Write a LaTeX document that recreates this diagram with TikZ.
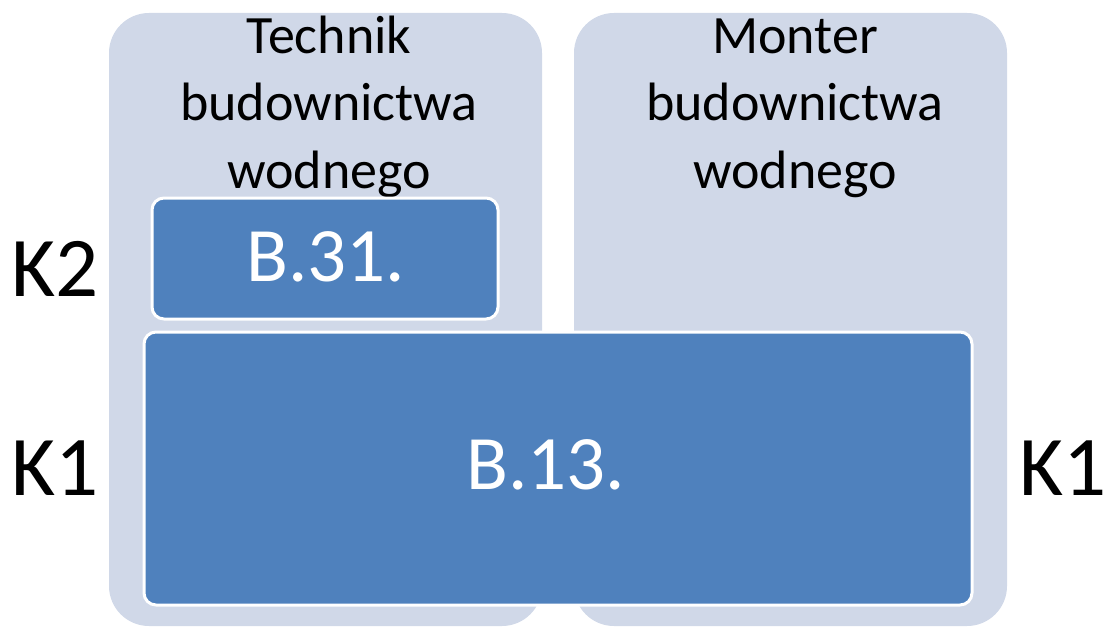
\documentclass[tikz,border=0pt]{standalone}
\usepackage{fontspec}
\setmainfont{Carlito}
\definecolor{panelbg}{HTML}{D0D8E8}
\definecolor{boxbg}{HTML}{4F81BD}
\tikzset{
  panel/.style={fill=panelbg, draw=none, rounded corners=40pt},
  exambox/.style={fill=boxbg, draw=white, line width=3pt, rounded corners=12pt},
  titletext/.style={anchor=base, inner sep=0pt, font=\fontsize{54}{68}\selectfont, text=black},
  codetext/.style={anchor=base, inner sep=0pt, font=\fontsize{77}{90}\selectfont, text=white},
  leveltext/.style={anchor=base, inner sep=0pt, font=\fontsize{85}{100}\selectfont, text=black},
}
\begin{document}
\begin{tikzpicture}[x=1pt, y=-1pt]
\useasboundingbox (0,0) rectangle (1110,626);
% panels
\path[panel] (109,13) rectangle (542,626);
\path[panel] (574,13) rectangle (1007,626);
% titles
\node[titletext] (t1a) at (329,53) {Technik};
\node[titletext] (t1b) at (329,120) {budownictwa};
\node[titletext] (t1c) at (329,188) {wodnego};
\node[titletext] (t2a) at (795,53) {Monter};
\node[titletext] (t2b) at (795,120) {budownictwa};
\node[titletext] (t2c) at (795,188) {wodnego};
% exam boxes
\path[exambox] (152,198) rectangle (498,319);
\node[codetext] (b31) at (326,281) {B.31.};
\path[exambox] (144,332) rectangle (972,605);
\node[codetext] (b13) at (546,489) {B.13.};
% levels
\node[leveltext] (k2) at (55,296) {K2};
\node[leveltext] (k1l) at (55,495) {K1};
\node[leveltext] (k1r) at (1063,495) {K1};
\end{tikzpicture}
\end{document}
